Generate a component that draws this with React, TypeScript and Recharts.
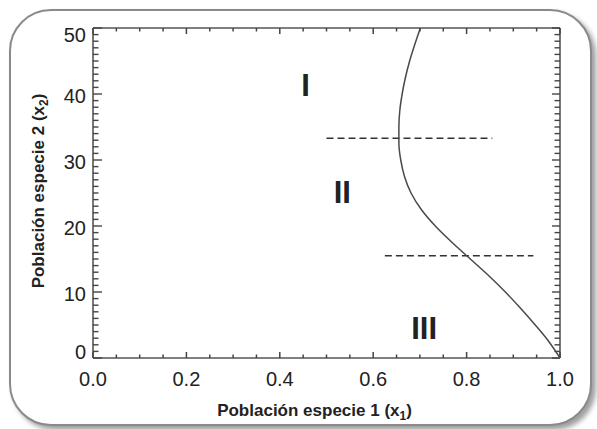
import React from "react";
import { LineChart, Line, XAxis, YAxis, ReferenceLine, ReferenceDot } from "recharts";

const FONT = '"Liberation Sans", Arial, Helvetica, sans-serif';
const AXIS = "#555555";
const TICK = "#444444";
const INK = "#222222";

// separatrix: x1, listed by x2 from bottom to top
const curveX2 = [0, 2.5, 5, 7.5, 10, 12.5, 15, 17.5, 20, 22.5, 25, 27.5, 30, 32.5, 35, 37.5, 40, 42.5, 45, 47.5, 50];
const curveX1 = [1.0, 0.976, 0.947, 0.916, 0.883, 0.847, 0.808, 0.769, 0.733, 0.703, 0.681, 0.667, 0.659, 0.655, 0.655, 0.657, 0.662, 0.669, 0.678, 0.689, 0.701];

// dashed boundaries between regions
const boundaryX2 = [33.3, 15.5];
const boundaryFrom = [0.5, 0.625];
const boundaryTo = [0.855, 0.943];

// region names and where they sit
const regionNames = ["I", "II", "III"];
const regionX1 = [0.455, 0.534, 0.709];
const regionX2 = [41.3, 25.1, 4.6];

const xTicks = [0, 0.05, 0.1, 0.15, 0.2, 0.25, 0.3, 0.35, 0.4, 0.45, 0.5, 0.55, 0.6, 0.65, 0.7, 0.75, 0.8, 0.85, 0.9, 0.95, 1.0];
const xLabels = [0, 0.2, 0.4, 0.6, 0.8, 1.0];
const yTicks = Array.from({ length: 51 }, (_, i) => i);
const yLabels = [0, 10, 20, 30, 40, 50];

const curve = curveX2.map((x2, i) => ({ x1: curveX1[i], x2 }));

const isLabelled = (v: number, list: number[]) => list.some((m) => Math.abs(m - v) < 1e-6);

// ticks point into the plot on every side
const BottomTick = (p: any) => {
  const v = p.payload.value;
  const major = isLabelled(v, xLabels);
  return (
    <g>
      <path d={`M${p.x},${p.y}V${p.y - (major ? 6 : 3.5)}`} stroke={TICK} strokeWidth={1.5} fill="none" />
      {major && (
        <text x={p.x} y={p.y + 28} textAnchor="middle" fontSize={20} fontFamily={FONT} fill={INK}>
          {v.toFixed(1)}
        </text>
      )}
    </g>
  );
};

const TopTick = (p: any) => {
  const major = isLabelled(p.payload.value, xLabels);
  return <path d={`M${p.x},${p.y}V${p.y + (major ? 6 : 3.5)}`} stroke={TICK} strokeWidth={1.5} fill="none" />;
};

// end labels sit a little inside the frame
const yNudge: Record<number, number> = { 0: -6.6, 50: 6.7 };

const LeftTick = (p: any) => {
  const v = p.payload.value;
  const major = isLabelled(v, yLabels);
  const dy = yNudge[v] ?? 2;
  return (
    <g>
      <path d={`M${p.x},${p.y}H${p.x + (major ? 9 : 5.5)}`} stroke={TICK} strokeWidth={1.4} fill="none" />
      {major && (
        <text x={p.x - 7} y={p.y + dy + 7.2} textAnchor="end" fontSize={20} fontFamily={FONT} fill={INK}>
          {v}
        </text>
      )}
    </g>
  );
};

const RightTick = (p: any) => {
  const major = isLabelled(p.payload.value, yLabels);
  return <path d={`M${p.x},${p.y}H${p.x - (major ? 8 : 5.5)}`} stroke={TICK} strokeWidth={1.4} fill="none" />;
};

const XTitle = (p: any) => {
  const vb = p.viewBox;
  return (
    <text x={vb.x + vb.width / 2 - 12} y={vb.y + 58} textAnchor="middle" fontSize={17} fontWeight="bold" fontFamily={FONT} fill={INK}>
      Población especie 1 (x
      <tspan fontSize={12} dy={4}>1</tspan>
      <tspan dy={-4}>)</tspan>
    </text>
  );
};

const YTitle = (p: any) => {
  const vb = p.viewBox;
  const cx = vb.x + 38;
  const cy = vb.y + vb.height / 2 - 2;
  return (
    <text x={cx} y={cy} transform={`rotate(-90 ${cx} ${cy})`} dy={6} textAnchor="middle" fontSize={17} fontWeight="bold" fontFamily={FONT} fill={INK}>
      Población especie 2 (x
      <tspan fontSize={12} dy={4}>2</tspan>
      <tspan dy={-4}>)</tspan>
    </text>
  );
};

const axisCommon = {
  type: "number" as const,
  allowDataOverflow: true,
  interval: 0 as const,
  tickSize: 0,
  tickMargin: 0,
  tickLine: false,
  axisLine: { stroke: AXIS, strokeWidth: 1.6 },
};

export default function App() {
  return (
    <div style={{ position: "absolute", left: 0, top: 0, width: 597, height: 429, background: "#fff", overflow: "hidden" }}>
      <div
        style={{
          position: "absolute",
          left: 9,
          top: 9,
          width: 583,
          height: 417,
          boxSizing: "border-box",
          border: "2.5px solid #8a8a8a",
          borderRadius: 42,
          boxShadow: "4px 4px 5px rgba(0,0,0,0.38)",
          background: "#fff",
        }}
      />
      <div style={{ position: "absolute", left: 0, top: 0 }}>
        <LineChart width={597} height={429} data={curve} margin={{ top: 0, right: 0, bottom: 0, left: 0 }}>
          <XAxis
            {...axisCommon}
            xAxisId="b"
            orientation="bottom"
            dataKey="x1"
            domain={[0, 1]}
            ticks={xTicks}
            tick={<BottomTick />}
            height={71}
            label={<XTitle />}
          />
          <XAxis
            {...axisCommon}
            xAxisId="t"
            orientation="top"
            dataKey="x1"
            domain={[0, 1]}
            ticks={xTicks}
            tick={<TopTick />}
            height={28}
          />
          <YAxis
            {...axisCommon}
            yAxisId="l"
            orientation="left"
            domain={[0, 50]}
            ticks={yTicks}
            tick={<LeftTick />}
            width={93}
            label={<YTitle />}
          />
          <YAxis
            {...axisCommon}
            yAxisId="r"
            orientation="right"
            domain={[0, 50]}
            ticks={yTicks}
            tick={<RightTick />}
            width={37}
          />
          {boundaryX2.map((y, i) => (
            <ReferenceLine
              key={`b-${i}`}
              xAxisId="b"
              yAxisId="l"
              segment={[
                { x: boundaryFrom[i], y },
                { x: boundaryTo[i], y },
              ]}
              stroke="#333"
              strokeWidth={1.6}
              strokeDasharray="7 4"
            />
          ))}
          {/* the same curve on the top/right pair, unstroked, so those axes share the scales */}
          <Line
            xAxisId="t"
            yAxisId="r"
            dataKey="x2"
            type="monotoneY"
            stroke="none"
            dot={false}
            activeDot={false}
            isAnimationActive={false}
          />
          <Line
            xAxisId="b"
            yAxisId="l"
            dataKey="x2"
            type="monotoneY"
            stroke="#4a4a4a"
            strokeWidth={1.5}
            dot={false}
            activeDot={false}
            isAnimationActive={false}
          />
          {regionNames.map((name, i) => (
            <ReferenceDot
              key={name}
              xAxisId="b"
              yAxisId="l"
              x={regionX1[i]}
              y={regionX2[i]}
              shape={(p: any) => (
                <text x={p.cx} y={p.cy + 11} textAnchor="middle" fontSize={31} fontWeight="bold" fontFamily={FONT} fill={INK}>
                  {name}
                </text>
              )}
            />
          ))}
        </LineChart>
      </div>
    </div>
  );
}
